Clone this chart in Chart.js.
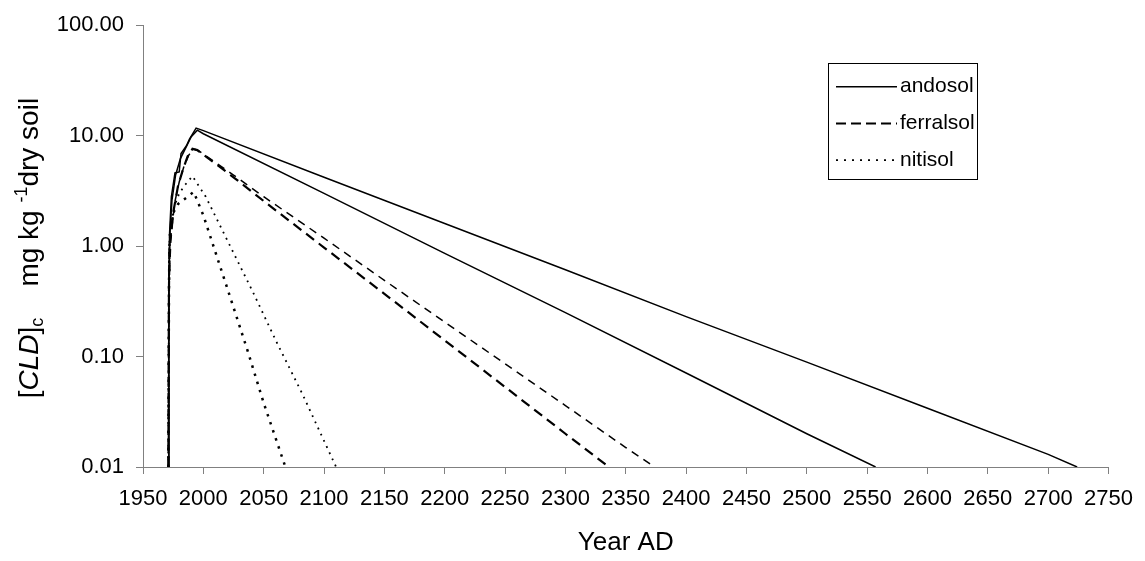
<!DOCTYPE html>
<html>
<head>
<meta charset="utf-8">
<title>CLD decline</title>
<script src="https://cdn.jsdelivr.net/npm/chart.js@4.4.0/dist/chart.umd.min.js"></script>
<style>
  html, body { margin: 0; padding: 0; background: #fff; }
  #wrap { width: 1145px; height: 561px; }
</style>
</head>
<body>
<div id="wrap"><canvas id="chart" width="1145" height="561"></canvas></div>
<script>
// ---- data: year AD -> concentration (mg/kg dry soil) ----
const andosolAYears = [1971, 1971.3, 1972, 1973.5, 1976.5, 1980, 1981.5, 1986, 1988.5, 1994, 2000, 2100, 2200, 2300, 2400, 2500, 2600, 2700, 2724];
const andosolAValues = [0.01, 0.3, 1.3, 2.8, 4.6, 4.7, 6.9, 8.1, 9.3, 11.7, 11.1, 4.2, 1.6, 0.61, 0.23, 0.089, 0.034, 0.013, 0.01];

const andosolBYears = [1971, 1971.5, 1972.5, 1974, 1977, 1981, 1986, 1990, 1995, 2000, 2100, 2200, 2300, 2400, 2500, 2557];
const andosolBValues = [0.01, 0.5, 1.4, 2.6, 4.4, 6.2, 8.0, 9.8, 11.2, 10.4, 3.0, 0.86, 0.25, 0.071, 0.020, 0.01];

const ferralsolAYears = [1971, 1971.5, 1973, 1976, 1980, 1984, 1988, 1993, 1996, 2025, 2050, 2100, 2150, 2200, 2250, 2300, 2350, 2374];
const ferralsolAValues = [0.01, 0.4, 1.1, 2.4, 3.8, 5.3, 6.7, 7.5, 7.3, 4.4, 2.8, 1.18, 0.49, 0.205, 0.086, 0.036, 0.015, 0.01];

const ferralsolBYears = [1971, 1971.5, 1972, 1975, 1979, 1983, 1987, 1991, 1995, 2025, 2050, 2100, 2150, 2200, 2250, 2300, 2336];
const ferralsolBValues = [0.01, 0.4, 1.0, 2.0, 3.5, 4.9, 6.5, 7.6, 7.4, 4.2, 2.56, 0.97, 0.37, 0.14, 0.053, 0.020, 0.01];

const nitisolAYears = [1971, 1971.5, 1972, 1975, 1979, 1983, 1987, 1992, 2000, 2020, 2037, 2050, 2068];
const nitisolAValues = [0.01, 0.4, 1.1, 2.0, 2.4, 2.6, 2.8, 3.1, 1.9, 0.41, 0.11, 0.038, 0.01];

const nitisolBYears = [1971, 1971.5, 1972, 1976, 1980, 1985, 1991, 2002, 2020, 2041, 2061, 2082, 2110];
const nitisolBValues = [0.01, 0.5, 1.3, 2.3, 3.0, 3.6, 4.3, 2.8, 1.12, 0.385, 0.133, 0.046, 0.01];

const soilNames = ['andosol', 'ferralsol', 'nitisol'];
const yTicks = [0.01, 0.1, 1, 10, 100];
const xMin = 1950, xMax = 2750, xStep = 50;

const FONT = '"Liberation Sans", Arial, sans-serif';
const AXIS = '#808080';

function pts(years, values) {
    return years.map((y, i) => ({ x: y, y: values[i] }));
}

function series(label, years, values, width, dash) {
    return {
        label: label,
        data: pts(years, values),
        borderColor: '#000',
        borderWidth: width,
        borderDash: dash,
        pointRadius: 0,
        tension: 0,
        fill: false
    };
}

const data = {
    datasets: [
        series('andosol', andosolAYears, andosolAValues, 1.5, []),
        series('andosol', andosolBYears, andosolBValues, 1.5, []),
        series('ferralsol', ferralsolAYears, ferralsolAValues, 1.5, [8, 6]),
        series('ferralsol', ferralsolBYears, ferralsolBValues, 2.2, [10, 6]),
        series('nitisol', nitisolAYears, nitisolAValues, 2.5, [2.5, 6]),
        series('nitisol', nitisolBYears, nitisolBValues, 1.8, [1.8, 5])
    ]
};

// legend in a framed box, top right
const legendBox = {
    id: 'legendBox',
    afterDraw(chart) {
        const { ctx } = chart;
        const styles = [
            { w: 1.5, dash: [] },
            { w: 2, dash: [10, 5] },
            { w: 1.8, dash: [2, 6] }
        ];
        ctx.save();
        ctx.strokeStyle = '#000';
        ctx.lineWidth = 1;
        ctx.setLineDash([]);
        ctx.strokeRect(828.5, 63.5, 149, 116);
        ctx.font = '21px ' + FONT;
        ctx.fillStyle = '#000';
        ctx.textBaseline = 'middle';
        soilNames.forEach((name, i) => {
            const y = 86.7 + i * 36.7;
            ctx.beginPath();
            ctx.lineWidth = styles[i].w;
            ctx.setLineDash(styles[i].dash);
            ctx.moveTo(836, y);
            ctx.lineTo(897, y);
            ctx.stroke();
            ctx.fillText(name, 900, y);
        });
        ctx.restore();
    }
};

// y axis title with italic, subscript and superscript parts
const yTitle = {
    id: 'yTitle',
    afterDraw(chart) {
        const { ctx, chartArea: { top, bottom } } = chart;
        const big = 28, small = 18;
        const parts = [
            { t: '[', f: big + 'px ' + FONT, dy: 0 },
            { t: 'CLD', f: 'italic ' + big + 'px ' + FONT, dy: 0 },
            { t: ']', f: big + 'px ' + FONT, dy: 0 },
            { t: 'c', f: small + 'px ' + FONT, dy: 5 },
            { t: '    mg kg ', f: big + 'px ' + FONT, dy: 0 },
            { t: '-1', f: small + 'px ' + FONT, dy: -11 },
            { t: 'dry soil', f: big + 'px ' + FONT, dy: 0 }
        ];
        ctx.save();
        let total = 0;
        parts.forEach(p => { ctx.font = p.f; p.w = ctx.measureText(p.t).width; total += p.w; });
        ctx.translate(38, (top + bottom) / 2 + 2);
        ctx.rotate(-Math.PI / 2);
        ctx.fillStyle = '#000';
        ctx.textBaseline = 'alphabetic';
        let x = -total / 2;
        parts.forEach(p => {
            ctx.font = p.f;
            ctx.fillText(p.t, x, p.dy);
            x += p.w;
        });
        ctx.restore();
    }
};

const config = {
    type: 'line',
    data,
    options: {
        responsive: false,
        animation: false,
        devicePixelRatio: 1,
        layout: {
            padding: { top: 20, right: 32, bottom: 0, left: 0 }
        },
        plugins: {
            legend: { display: false },
            tooltip: { enabled: false }
        },
        scales: {
            x: {
                type: 'linear',
                min: xMin,
                max: xMax,
                ticks: {
                    stepSize: xStep,
                    autoSkip: false,
                    maxRotation: 0,
                    padding: 12,
                    color: '#000',
                    font: { family: FONT, size: 22 },
                    callback: v => String(v)
                },
                grid: { drawOnChartArea: false, drawTicks: true, tickLength: 7, color: AXIS },
                border: { color: AXIS, width: 1 },
                title: {
                    display: true,
                    text: 'Year AD',
                    color: '#000',
                    font: { family: FONT, size: 26 },
                    padding: { top: 0, bottom: 3 }
                },
                afterFit(scale) { scale.height = 94; }
            },
            y: {
                type: 'logarithmic',
                min: 0.01,
                max: 100,
                afterBuildTicks(scale) {
                    scale.ticks = yTicks.map(v => ({ value: v }));
                },
                ticks: {
                    autoSkip: false,
                    padding: 12,
                    color: '#000',
                    font: { family: FONT, size: 22 },
                    callback: v => Number(v).toFixed(2)
                },
                grid: { drawOnChartArea: false, drawTicks: true, tickLength: 7, color: AXIS },
                border: { color: AXIS, width: 1 },
                afterFit(scale) { scale.width = 143; }
            }
        }
    },
    plugins: [legendBox, yTitle]
};

const myChart = new Chart(document.getElementById('chart'), config);
</script>
</body>
</html>
